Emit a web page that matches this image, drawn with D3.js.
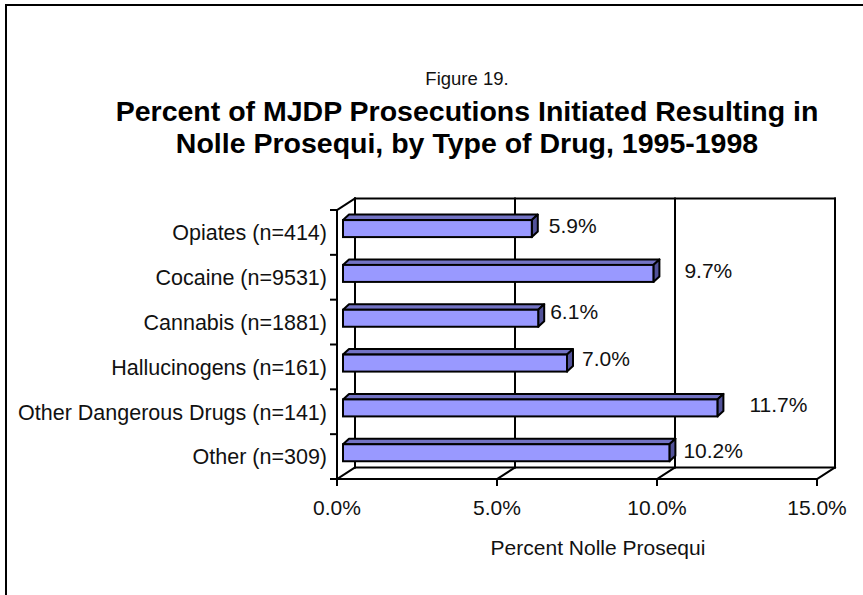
<!DOCTYPE html>
<html>
<head>
<meta charset="utf-8">
<script src="https://cdn.jsdelivr.net/npm/d3@7"></script>
<style>
  html, body { margin: 0; padding: 0; background: #fff; }
  svg { display: block; font-family: "Liberation Sans", Arial, sans-serif; }
</style>
</head>
<body>
<svg id="chart" width="863" height="595"></svg>
<script>
// Drug categories, top to bottom
const categories = [
  "Opiates (n=414)",
  "Cocaine (n=9531)",
  "Cannabis (n=1881)",
  "Hallucinogens (n=161)",
  "Other Dangerous Drugs (n=141)",
  "Other (n=309)"
];
// Percent of prosecutions ending in nolle prosequi
const percents = [5.9, 9.7, 6.1, 7.0, 11.7, 10.2];
const xTicks = [0, 5, 10, 15];
const figureLabel = "Figure 19.";
const titleLines = [
  "Percent of MJDP Prosecutions Initiated Resulting in",
  "Nolle Prosequi, by Type of Drug, 1995-1998"
];
const xAxisTitle = "Percent Nolle Prosequi";
// small per-label placement tweaks (dx, dy) for the value labels
const labelNudge = [[17, -3], [31, -2.5], [12, -6.5], [15, -4.5], [32, -3], [14, -2.5]];

const svg = d3.select("#chart");
const ink = "#000";

// frame
svg.append("path")
  .attr("d", "M6,595 V5 H863")
  .attr("fill", "none").attr("stroke", ink).attr("stroke-width", 2);

// 3D box geometry
const boxL = 337, boxT = 210, W = 480, H = 269;
const depth = { dx: 18, dy: -11.5 };

const x = d3.scaleLinear().domain([0, 15]).range([0, W]);
const y = d3.scaleBand().domain(categories).range([0, H]);

const g = svg.append("g");
const line = (x1, y1, x2, y2) => g.append("line")
  .attr("x1", x1).attr("y1", y1).attr("x2", x2).attr("y2", y2)
  .attr("stroke", ink).attr("stroke-width", 2).attr("stroke-linecap", "square");

const bx = boxL + depth.dx, by = boxT + depth.dy;           // back wall top-left
// back wall
line(bx, by, bx + W, by);
line(bx, by, bx, by + H);
line(bx + W, by, bx + W, by + H);
line(bx, by + H, bx + W, by + H);
// gridlines on back wall and floor
xTicks.filter(t => t > 0 && t < 15).forEach(t => {
  line(bx + x(t), by, bx + x(t), by + H);
  line(boxL + x(t), boxT + H, bx + x(t), by + H);
});
// left wall / floor edges
line(boxL, boxT, bx, by);
line(boxL, boxT + H, bx, by + H);
line(boxL + W, boxT + H, bx + W, by + H);
// front axes
line(boxL, boxT, boxL, boxT + H);
line(boxL, boxT + H, boxL + W, boxT + H);

// category ticks
d3.range(categories.length + 1).forEach(i => {
  const yy = boxT + i * y.step();
  line(boxL - 6, yy, boxL, yy);
});
// value ticks
xTicks.forEach(t => line(boxL + x(t), boxT + H, boxL + x(t), boxT + H + 6));

// bars sit one third into the depth
const off = { dx: depth.dx / 3, dy: depth.dy / 3 };
const barH = 17, bd = { dx: 6, dy: -5.5 };
const front = "#9999FF", topC = "#7373C4", side = "#525299";

const bars = g.selectAll("g.bar").data(percents).join("g").attr("class", "bar");
bars.each(function (v, i) {
  const gg = d3.select(this);
  const x0 = boxL + off.dx + x(0);
  const x1 = boxL + off.dx + x(v);
  const yc = boxT + off.dy + y(categories[i]) + y.bandwidth() / 2;
  const y0 = yc - barH / 2, y1 = yc + barH / 2;
  gg.append("polygon")
    .attr("points", [[x0, y0], [x1, y0], [x1 + bd.dx, y0 + bd.dy], [x0 + bd.dx, y0 + bd.dy]].join(" "))
    .attr("fill", topC).attr("stroke", ink).attr("stroke-width", 2).attr("stroke-linejoin", "round");
  gg.append("polygon")
    .attr("points", [[x1, y0], [x1 + bd.dx, y0 + bd.dy], [x1 + bd.dx, y1 + bd.dy], [x1, y1]].join(" "))
    .attr("fill", side).attr("stroke", ink).attr("stroke-width", 2).attr("stroke-linejoin", "round");
  gg.append("rect")
    .attr("x", x0).attr("y", y0).attr("width", x1 - x0).attr("height", barH)
    .attr("fill", front).attr("stroke", ink).attr("stroke-width", 2);
  const [nx, ny] = labelNudge[i];
  gg.append("text")
    .attr("x", x1 + nx).attr("y", yc + ny + 7.5)
    .attr("font-size", 21).attr("fill", "#111")
    .text(v.toFixed(1) + "%");
});

// category labels
svg.selectAll("text.cat").data(categories).join("text")
  .attr("class", "cat")
  .attr("x", 327)
  .attr("y", d => boxT + y(d) + y.bandwidth() / 2 + 7.8)
  .attr("text-anchor", "end").attr("font-size", 21.5).attr("fill", "#111")
  .text(d => d);

// x tick labels
svg.selectAll("text.tick").data(xTicks).join("text")
  .attr("class", "tick")
  .attr("x", d => boxL + x(d)).attr("y", 515)
  .attr("text-anchor", "middle").attr("font-size", 21).attr("fill", "#111")
  .text(d => d.toFixed(1) + "%");

svg.append("text")
  .attr("x", 598).attr("y", 555)
  .attr("text-anchor", "middle").attr("font-size", 21).attr("fill", "#111")
  .text(xAxisTitle);

// titles
svg.append("text")
  .attr("x", 467).attr("y", 85)
  .attr("text-anchor", "middle").attr("font-size", 18.5).attr("fill", "#111")
  .text(figureLabel);
svg.selectAll("text.title").data(titleLines).join("text")
  .attr("class", "title")
  .attr("x", 467).attr("y", (d, i) => 121 + i * 32)
  .attr("text-anchor", "middle").attr("font-size", 28.5).attr("font-weight", "bold").attr("fill", "#000")
  .text(d => d);
</script>
</body>
</html>
